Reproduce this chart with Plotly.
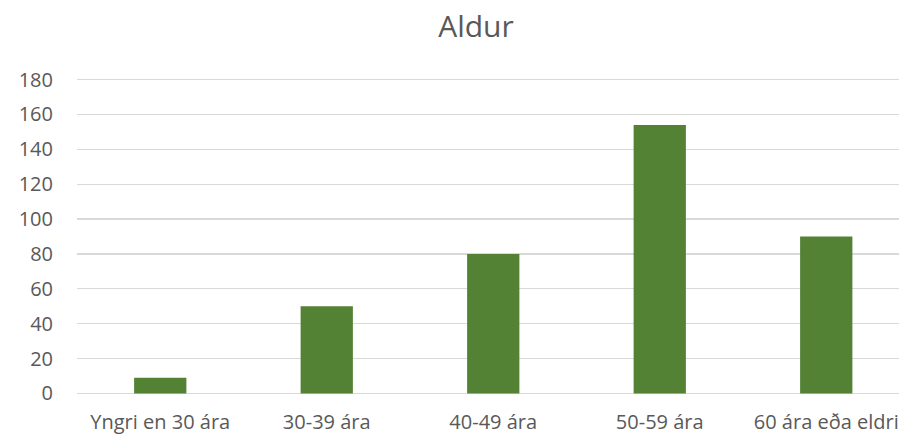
import plotly.graph_objects as go

categories = ["Yngri en 30 ára", "30-39 ára", "40-49 ára", "50-59 ára", "60 ára eða eldri"]
values = [9, 50, 80, 154, 90]
y_ticks = [0, 20, 40, 60, 80, 100, 120, 140, 160, 180]

W, H = 899, 435
L = 77
T = 80
BOTTOM = 393
step = 166.5
plot_w = W - L
x_max = -0.5 + plot_w / step
pad = 1.5
px_per = (BOTTOM - T) / 180.0
T2 = T - pad * px_per
B2 = H - (BOTTOM + pad * px_per)

fig = go.Figure(go.Bar(x=list(range(len(categories))), y=values,
                       marker=dict(color="#548235", line=dict(width=0)),
                       hoverinfo="skip"))

fig.update_layout(
    width=W, height=H,
    margin=dict(l=L, r=0, t=T2, b=B2, autoexpand=False),
    paper_bgcolor="white", plot_bgcolor="white",
    bargap=0.686,
    showlegend=False,
    font=dict(family="Open Sans", color="#595959", size=20),
    title=dict(text="Aldur", x=476 / W, xanchor="center", y=1 - 26 / H, yanchor="middle",
               font=dict(size=30, color="#595959", family="Open Sans")),
    xaxis=dict(range=[-0.5, x_max], tickmode="array", tickvals=list(range(len(categories))),
               ticktext=categories, showgrid=False, zeroline=False, showline=False,
               ticks="outside", ticklen=8, tickcolor="rgba(0,0,0,0)",
               tickfont=dict(size=20, color="#595959")),
    yaxis=dict(range=[-pad, 180 + pad], tickmode="array", tickvals=y_ticks, showgrid=True,
               gridcolor="#d9d9d9", gridwidth=1.3, zeroline=False, showline=False,
               ticks="outside", ticklen=19, tickcolor="rgba(0,0,0,0)",
               tickfont=dict(size=20, color="#595959")),
)
fig.write_html(
    "out.html",
    config={"displayModeBar": False, "staticPlot": True},
    post_script="document.body.style.margin='0';document.body.style.overflow='hidden';",
)
